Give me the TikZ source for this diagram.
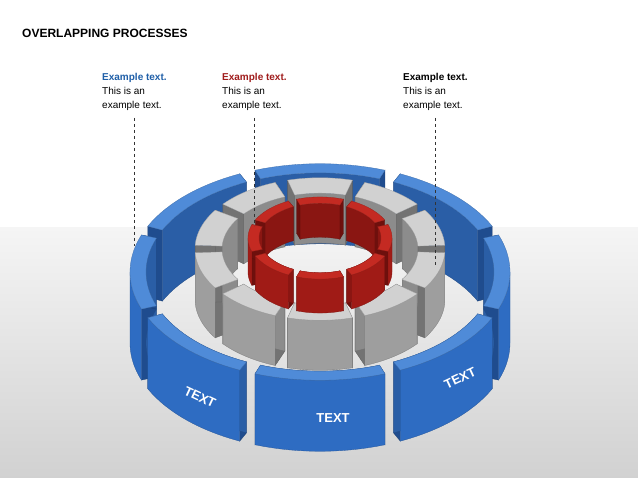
\documentclass[tikz,border=0pt]{standalone}
\usepackage{fontspec}
\setmainfont{Liberation Sans}
\definecolor{bluetxt}{HTML}{1F5FA8}
\definecolor{redtxt}{HTML}{A01C1C}
\definecolor{btop}{HTML}{4F8BD8}
\definecolor{bout}{HTML}{2E6CC2}
\definecolor{binn}{HTML}{2A5EA6}
\definecolor{bcap}{HTML}{1F4C8E}
\colorlet{gtop}{black!18}
\colorlet{gout}{black!38}
\colorlet{ginn}{black!45}
\colorlet{gcap}{black!55}
\definecolor{rtop}{HTML}{C42A22}
\definecolor{rout}{HTML}{A01B16}
\definecolor{rinn}{HTML}{8A1612}
\definecolor{rcap}{HTML}{6E100D}
\tikzset{
  lbl/.style={anchor=north west,align=left,font=\fontsize{10}{14}\selectfont,inner sep=0pt},
  guide/.style={dashed,line width=0.7pt,black!80},
  ringtext/.style={white,font=\bfseries\fontsize{13}{15}\selectfont,inner sep=0pt},
}
\newcommand\cx{320}
\newcommand\ringsetup[6]{\def\cy{#1}\def\ri{#2}\def\ro{#3}\def\kk{#4}\def\hh{#5}\def\hw{#6}}
\newcommand\drawring[5]{% mids, topcolor, outercolor, innercolor, capcolor
  \foreach \mm in {#1}{%
    \pgfmathsetmacro\aa{\mm-\hw}\pgfmathsetmacro\bb{\mm+\hw}
    \foreach \e in {\aa,\bb}{%
      \fill[#5,draw=#5!80!black,line width=0.3pt] ({\cx+\ro*cos(\e)},{\cy+\kk*\ro*sin(\e)}) -- ({\cx+\ro*cos(\e)},{\cy+\kk*\ro*sin(\e)-\hh}) -- ({\cx+\ri*cos(\e)},{\cy+\kk*\ri*sin(\e)-\hh}) -- ({\cx+\ri*cos(\e)},{\cy+\kk*\ri*sin(\e)}) -- cycle;}
  }
  \foreach \mm in {#1}{%
    \pgfmathsetmacro\aa{\mm-\hw}\pgfmathsetmacro\bb{\mm+\hw}
    \fill[#4,draw=#4!80!black,line width=0.3pt] plot[domain=\aa:\bb,samples=16] ({\cx+\ri*cos(\x)},{\cy+\kk*\ri*sin(\x)}) -- plot[domain=\bb:\aa,samples=16] ({\cx+\ri*cos(\x)},{\cy+\kk*\ri*sin(\x)-\hh}) -- cycle;
  }
  \foreach \mm in {#1}{%
    \pgfmathsetmacro\lo{max(\mm-\hw,0)}\pgfmathsetmacro\hi{min(\mm+\hw,180)}
    \ifdim\lo pt<\hi pt
    \fill[#3,draw=#3!80!black,line width=0.3pt] plot[domain=\lo:\hi,samples=16] ({\cx+\ro*cos(\x)},{\cy+\kk*\ro*sin(\x)}) -- plot[domain=\hi:\lo,samples=16] ({\cx+\ro*cos(\x)},{\cy+\kk*\ro*sin(\x)-\hh}) -- cycle;
    \fi
  }
  \foreach \mm in {#1}{%
    \pgfmathsetmacro\aa{\mm-\hw}\pgfmathsetmacro\bb{\mm+\hw}
    \fill[#2,draw=#2!80!black,line width=0.3pt] plot[domain=\aa:\bb,samples=16] ({\cx+\ro*cos(\x)},{\cy+\kk*\ro*sin(\x)-\hh}) -- plot[domain=\bb:\aa,samples=16] ({\cx+\ri*cos(\x)},{\cy+\kk*\ri*sin(\x)-\hh}) -- cycle;
  }
}
\begin{document}
\begin{tikzpicture}[x=1pt,y=-1pt]
\useasboundingbox (0,0) rectangle (638,478);
\fill[white] (0,0) rectangle (638,478);
\shade[top color=black!4,bottom color=black!18] (0,228) rectangle (638,478);
\node[anchor=west,font=\bfseries\fontsize{12}{14}\selectfont,inner sep=0pt] (title) at (22,33) {OVERLAPPING PROCESSES};
\node[lbl] (t1) at (102,73) {\textcolor{bluetxt}{\bfseries Example text.}\\This is an\\example text.};
\node[lbl] (t2) at (222,73) {\textcolor{redtxt}{\bfseries Example text.}\\This is an\\example text.};
\node[lbl] (t3) at (403,73) {{\bfseries Example text.}\\This is an\\example text.};
% blue ring
\ringsetup{343}{174}{190}{0.57}{71}{20}
\drawring{-135,-90,-45,0,45,90,135,180}{btop}{bout}{binn}{bcap}
% gray ring
\ringsetup{299}{98}{125}{0.57}{50}{15}
\drawring{-162,-126,-90,-54,-18,18,54,90,126,162}{gtop}{gout}{ginn}{gcap}
% red ring
\ringsetup{272}{61}{72}{0.57}{34}{19}
\drawring{-135,-90,-45,0,45,90,135,180}{rtop}{rout}{rinn}{rcap}
% labels on blue ring
\node[ringtext,rotate=-25] (x1) at (200,397) {TEXT};
\node[ringtext] (x2) at (333,418) {TEXT};
\node[ringtext,rotate=25] (x3) at (460,378) {TEXT};
% guides
\coordinate (g1a) at (134,118); \coordinate (g1b) at (134,246);
\coordinate (g2a) at (254,118); \coordinate (g2b) at (254,226);
\coordinate (g3a) at (435,118); \coordinate (g3b) at (435,266);
\draw[guide] (g1a) -- (g1b);
\draw[guide] (g2a) -- (g2b);
\draw[guide] (g3a) -- (g3b);
\end{tikzpicture}
\end{document}
